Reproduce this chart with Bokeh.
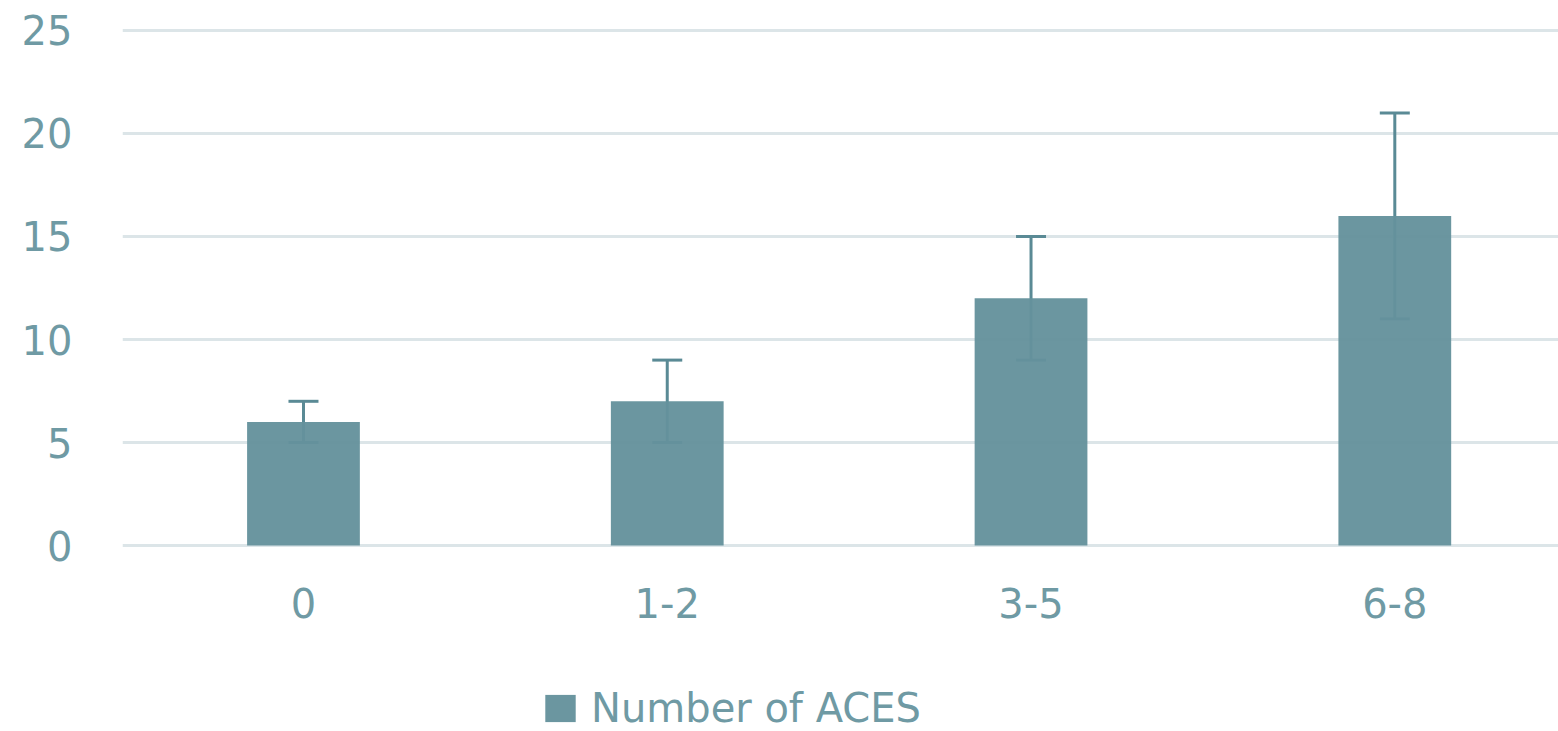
from bokeh.plotting import figure
from bokeh.models import (ColumnDataSource, Range1d, FixedTicker, Whisker, TeeHead,
                          Legend, LegendItem)
from bokeh.embed import file_html
from bokeh.resources import INLINE

categories = ["0", "1-2", "3-5", "6-8"]
values = [6, 7, 12, 16]
err_low = [5, 5, 9, 11]
err_high = [7, 9, 15, 21]
y_ticks = [0, 5, 10, 15, 20, 25]
series_name = "Number of ACES"

BAR = "#65929C"
ERR = "#5A8A95"
TXT = "#6F9AA4"
GRID = "#DCE5E8"
FONT = "DejaVu Sans"
FS = "40px"

xpos = [i + 0.5 for i in range(len(categories))]
src = ColumnDataSource(dict(x=xpos, top=values, lo=err_low, hi=err_high))

p = figure(width=1558, height=731, output_backend="svg", toolbar_location=None,
           x_range=Range1d(0.0025, 3.95), y_range=Range1d(-9.029, 25.097),
           min_border_left=122, min_border_right=0, min_border_top=28,
           min_border_bottom=0)
p.outline_line_color = None
p.background_fill_color = "white"
p.border_fill_color = "white"

# axes
p.xaxis.ticker = FixedTicker(ticks=xpos)
p.xaxis.major_label_overrides = {x: c for x, c in zip(xpos, categories)}
p.xaxis.fixed_location = 0
p.yaxis.ticker = FixedTicker(ticks=y_ticks)
for ax in (p.xaxis[0], p.yaxis[0]):
    ax.axis_line_color = None
    ax.major_tick_line_color = None
    ax.minor_tick_line_color = None
    ax.major_tick_out = 0
    ax.major_tick_in = 0
    ax.major_label_text_font = FONT
    ax.major_label_text_font_size = FS
    ax.major_label_text_color = TXT
p.xaxis.major_label_standoff = 42
p.yaxis.major_label_standoff = 50

p.xgrid.grid_line_color = None
p.ygrid.grid_line_color = GRID
p.ygrid.grid_line_width = 3
p.ygrid.ticker = FixedTicker(ticks=y_ticks)

whisk = Whisker(source=src, base="x", upper="hi", lower="lo", dimension="height",
                line_color=ERR, line_width=3, level="underlay",
                upper_head=TeeHead(size=30, line_color=ERR, line_width=3),
                lower_head=TeeHead(size=30, line_color=ERR, line_width=3))
p.add_layout(whisk)

bars = p.vbar(x="x", top="top", bottom=0, width=0.31, source=src,
              fill_color=BAR, fill_alpha=0.96, line_color=None)

legend = Legend(items=[LegendItem(label=series_name, renderers=[bars])],
                location=(419, 0), orientation="horizontal",
                padding=0, margin=0, spacing=0,
                glyph_width=38, glyph_height=34, label_standoff=12,
                label_text_font=FONT, label_text_font_size=FS,
                label_text_color=TXT, background_fill_alpha=0,
                border_line_color=None)
p.add_layout(legend, "center")

open("out.html", "w").write(file_html(p, INLINE))
